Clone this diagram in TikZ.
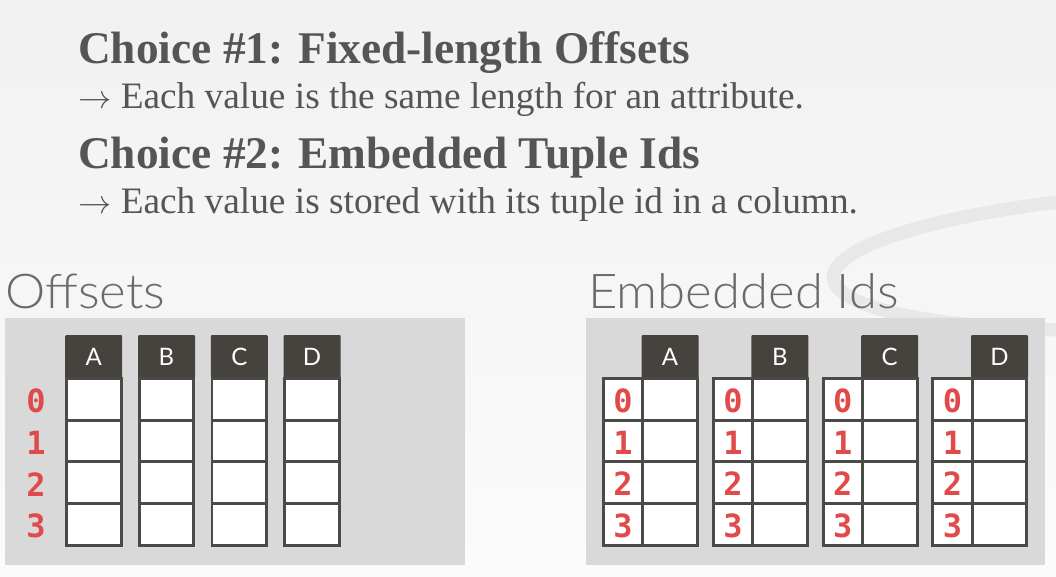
\documentclass[tikz,border=0pt]{standalone}
\usepackage{fontspec}
\setmainfont{Liberation Serif}
\newfontfamily\titlefont{Liberation Serif}
\newfontfamily\bulletfont{Liberation Serif}
\IfFontExistsTF{Lato Light}{\newfontfamily\lightsans[FakeStretch=1.06]{Lato Light}}{\newfontfamily\lightsans[FakeStretch=1.06]{Lato}}
\newfontfamily\hdrsans{Lato}
\newfontfamily\digitfont{DejaVu Sans Mono}
\definecolor{bgtop}{HTML}{F1F1F1}
\definecolor{bgbot}{HTML}{FBFBFB}
\definecolor{ringcol}{HTML}{E8E8E8}
\definecolor{txtgray}{HTML}{555555}
\definecolor{headgray}{HTML}{6A6A6A}
\definecolor{panelgray}{HTML}{D9D9D9}
\definecolor{hdrdark}{HTML}{46433E}
\definecolor{celledge}{HTML}{4A4A46}
\definecolor{idred}{HTML}{E04A4A}
\begin{document}
\begin{tikzpicture}[x=0.75pt,y=-0.75pt,
  titletext/.style={anchor=base west, inner sep=0pt, text=txtgray, font=\titlefont\bfseries\fontsize{34}{40}\selectfont},
  bullettext/.style={anchor=base west, inner sep=0pt, text=txtgray, font=\bulletfont\fontsize{28}{32}\selectfont},
  heading/.style={anchor=base west, inner sep=0pt, text=headgray, font=\lightsans\fontsize{36}{42}\selectfont},
  hdr/.style={fill=hdrdark, text=white, font=\hdrsans\fontsize{18}{20}\selectfont, inner sep=0pt,
     minimum width=42.75pt, minimum height=32.25pt, rounded corners=0.8pt},
  cell/.style={draw=celledge, line width=2.2pt, fill=white, inner sep=0pt, minimum height=31.25pt},
  valcell/.style={cell, minimum width=41pt},
  idcell/.style={cell, minimum width=29.4pt},
  rowid/.style={text=idred, font=\digitfont\bfseries\fontsize{24}{26}\selectfont, inner sep=0pt}
]
% background
\fill[top color=bgtop, bottom color=bgbot] (0,0) rectangle (1056,576);
\useasboundingbox (0,0) rectangle (1056,576);
% faint background ring
\draw[ringcol, line width=10pt] (1175,260) ellipse [x radius=342, y radius=68, rotate=3];

% texts
\node[titletext] (t1) at (78,63) {Choice \#1: Fixed-length Offsets};
\node[bullettext] (b1) at (78,108) {$\rightarrow$ Each value is the same length for an attribute.};
\node[titletext] (t2) at (78,168) {Choice \#2: Embedded Tuple Ids};
\node[bullettext] (b2) at (78,213) {$\rightarrow$ Each value is stored with its tuple id in a column.};

\node[heading] (h1) at (5,308) {Offsets};
\node[heading] (h2) at (588,308) {Embedded Ids};

% panels
\fill[panelgray] (5,318) rectangle (465,565);
\fill[panelgray] (586,318) rectangle (1045,565);

% Offsets columns
\foreach \c [count=\i from 0] in {A,B,C,D} {
  \pgfmathsetmacro\xc{93.7+72.8*\i}
  \node[hdr] (oh\c) at (\xc,356.5) {\c};
  \foreach \r in {0,1,2,3} {
    \pgfmathsetmacro\yc{399.2+41.67*\r}
    \node[valcell] (o\c\r) at (\xc,\yc) {};
  }
}
\foreach \r in {0,1,2,3} {
  \pgfmathsetmacro\yc{401+41.67*\r}
  \node[rowid] (oid\r) at (36,\yc) {\r};
}

% Embedded Ids columns
\foreach \c [count=\i from 0] in {A,B,C,D} {
  \pgfmathsetmacro\xi{623.1+109.8*\i}
  \pgfmathsetmacro\xv{670.1+109.8*\i}
  \node[hdr] (eh\c) at (\xv,356.5) {\c};
  \foreach \r in {0,1,2,3} {
    \pgfmathsetmacro\yc{399.2+41.67*\r}
    \node[valcell] (ev\c\r) at (\xv,\yc) {};
    \node[idcell] (ei\c\r) at (\xi,\yc) {};
    \node[rowid] (en\c\r) at (\xi,\yc+1.5) {\r};
  }
}
\end{tikzpicture}
\end{document}
